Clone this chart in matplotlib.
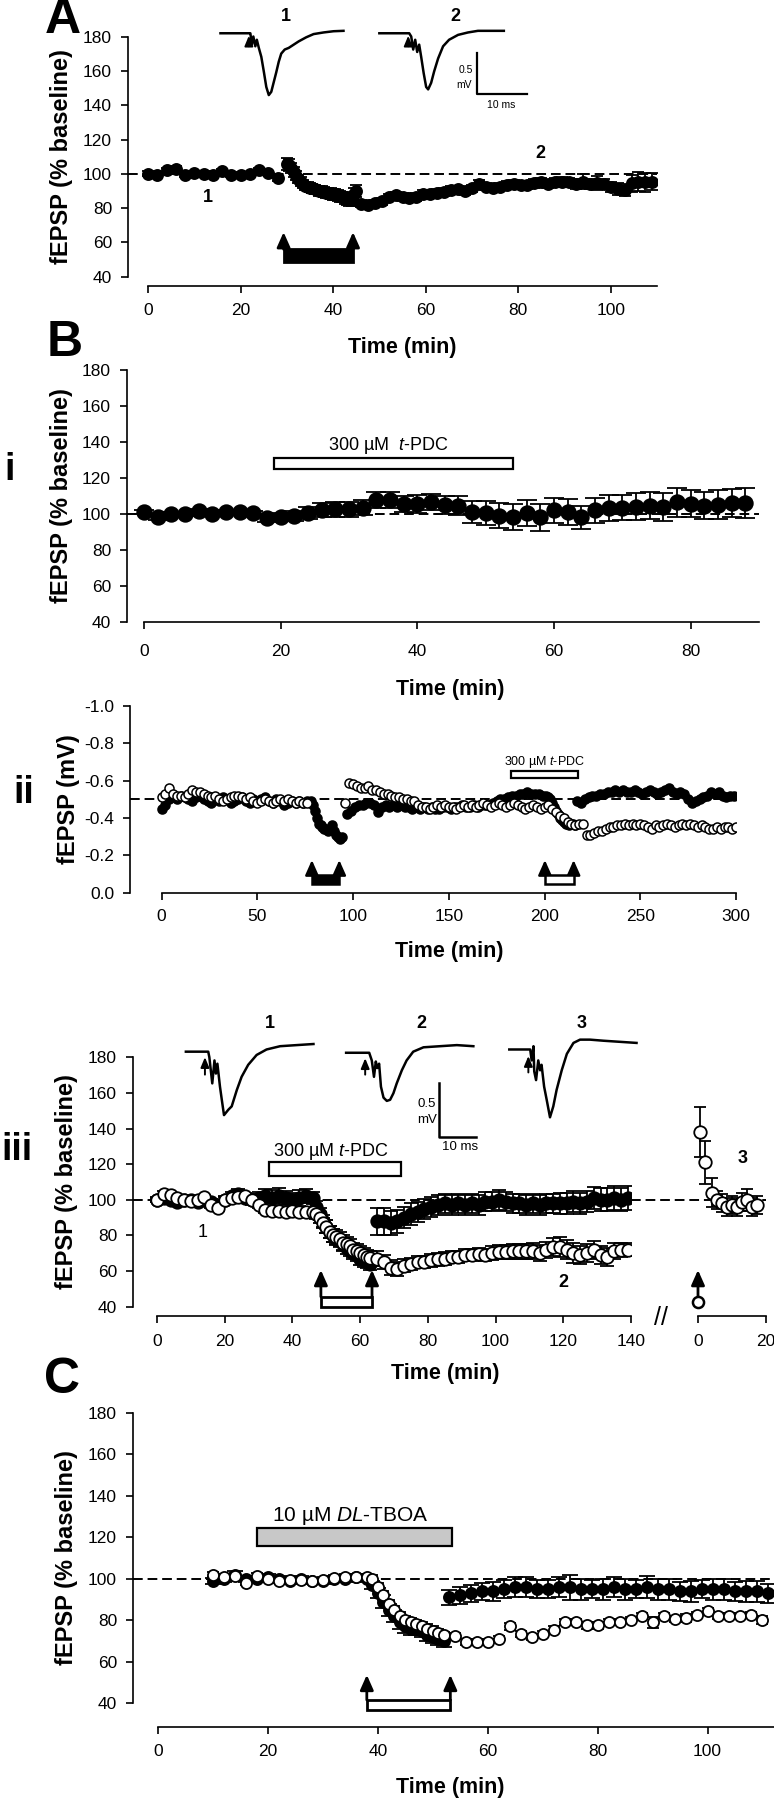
import matplotlib.pyplot as plt
import numpy as np
from matplotlib.patches import Rectangle

plt.rcParams["font.family"] = ["Liberation Sans", "DejaVu Sans"]
plt.rcParams["mathtext.fontset"] = "custom"
plt.rcParams["mathtext.rm"] = "Liberation Sans"
plt.rcParams["mathtext.it"] = "Liberation Sans:italic"

W, H = 774, 1800

# ---------------- A: LTD, % baseline ----------------
A_t_base = np.arange(0, 29, 2)
A_v_base = [100, 99.5, 102, 103, 99.5, 100.5, 100, 99.5, 101.5, 99.5, 99.5, 100, 102, 100.5, 97.5]
A_e_base = [1.5, 1.2, 1.4, 1.6, 1.3, 1.2, 1.4, 1.3, 1.5, 1.2, 1.4, 1.3, 1.6, 1.4, 1.5]
A_t_stim = np.arange(30, 45.5, 0.5)
A_v_stim = [106, 105, 103.5, 101, 99, 97, 95.5, 94, 93, 92.5, 92, 91.5, 91, 90.5, 90, 90,
            89.5, 89, 89, 88.5, 88, 88, 87.5, 87, 86.5, 86, 85.5, 85, 84.5, 88, 90]
A_e_stim = [3.5, 3.5, 3.0, 3.0, 2.8, 2.5, 2.5, 2.5, 2.5, 2.5, 2.5, 2.5, 2.5, 2.5, 2.8, 2.8,
            3.0, 3.0, 3.0, 3.0, 3.0, 3.0, 3.2, 3.2, 3.2, 3.5, 3.5, 3.5, 3.5, 3.5, 3.5]
A_t_post = np.arange(46, 109.5, 1.5)
A_v_post = [82.5, 82, 83, 84, 86.5, 87.5, 86.5, 86, 86.5, 88.5, 88.5, 89, 89.5, 90.5, 91, 90,
            91.5, 94, 92.5, 92, 92.5, 93.5, 94, 93.5, 93.5, 94.5, 95, 94, 95, 95.5, 95, 94,
            95.5, 94, 94.5, 94, 92.5, 91, 90.5, 94.5, 95.5, 95, 95.5]
A_e_post = [2.0, 2.0, 2.0, 2.0, 2.0, 2.2, 2.2, 2.2, 2.2, 2.2, 2.2, 2.2, 2.2, 2.2, 2.2, 2.2,
            2.2, 2.2, 2.2, 2.2, 2.2, 2.2, 2.2, 2.2, 2.2, 2.5, 2.5, 2.5, 2.5, 2.5, 2.5, 3.0,
            4.5, 3.0, 4.0, 3.0, 3.0, 3.5, 3.5, 5.0, 5.5, 5.5, 5.0]

# example traces (ms, mV)
A_tr1_ms = [0.3, 6.0, 6.3, 6.6, 6.9, 7.3, 7.6, 8.0, 8.5, 9.0, 9.5, 10.0, 10.5, 11.0, 11.5,
            12.0, 12.5, 13.2, 14.0, 15.0, 16.0, 17.5, 19.0, 21.0, 23.0, 25.0]
A_tr1_mv = [0, 0, 0, -0.14, -0.04, -0.16, -0.08, -0.18, -0.29, -0.47, -0.66, -0.76, -0.72,
            -0.60, -0.48, -0.35, -0.25, -0.20, -0.18, -0.14, -0.10, -0.05, -0.01, 0.01, 0.025, 0.03]
A_tr2_ms = [32.2, 38.2, 38.6, 39.0, 39.4, 39.8, 40.2, 40.6, 41.1, 41.6, 42.0, 42.6, 43.2,
            44.0, 45.0, 46.2, 48.0, 50.0, 52.0, 54.5, 57.2]
A_tr2_mv = [0, 0, -0.04, -0.20, -0.08, -0.23, -0.14, -0.29, -0.49, -0.66, -0.69, -0.61,
            -0.47, -0.31, -0.16, -0.08, -0.02, 0.01, 0.03, 0.03, 0.03]

# ---------------- B i: t-PDC alone ----------------
Bi_t = np.arange(0, 90, 2)
Bi_v = [101, 98, 100, 100, 101.5, 100, 101, 101, 100.5, 97.5, 98, 99, 100.5, 102, 102.5,
        102.5, 103.5, 107.5, 107.5, 105.5, 105.5, 106.5, 105, 104.5, 101, 100.5, 99, 98,
        100.5, 98, 102, 101, 98, 102, 103, 103.5, 104, 104.5, 104, 106.5, 105.5, 104.5,
        105, 106, 106]
Bi_e = [1.2, 1.5, 1.2, 1.2, 1.3, 1.2, 1.2, 1.2, 1.3, 2.0, 2.2, 2.8, 3.5, 4.0, 4.0, 4.2,
        4.0, 4.5, 4.5, 4.5, 4.8, 4.5, 5.0, 5.2, 6.0, 6.5, 7.0, 7.2, 7.0, 7.5, 7.0, 7.2,
        6.5, 7.0, 7.2, 7.0, 7.5, 7.5, 7.8, 8.0, 7.5, 7.5, 8.0, 8.0, 8.2]

# ---------------- B ii: single experiment, mV ----------------
Bii_f_t1 = np.arange(0, 77, 2)
Bii_f_v1 = [-0.45, -0.47, -0.50, -0.51, -0.50, -0.52, -0.51, -0.50, -0.49, -0.51, -0.52,
            -0.50, -0.49, -0.48, -0.50, -0.49, -0.51, -0.50, -0.48, -0.49, -0.50, -0.51,
            -0.49, -0.48, -0.50, -0.49, -0.50, -0.51, -0.49, -0.48, -0.50, -0.49, -0.47,
            -0.48, -0.49, -0.48, -0.49, -0.48, -0.49]
Bii_f_t2 = np.arange(78, 95, 1)
Bii_f_v2 = [-0.49, -0.47, -0.44, -0.40, -0.37, -0.36, -0.35, -0.34, -0.34, -0.33, -0.34,
            -0.36, -0.33, -0.31, -0.30, -0.29, -0.30]
Bii_f_t3 = np.arange(97, 200, 2)
Bii_f_v3 = [-0.42, -0.44, -0.46, -0.47, -0.47, -0.48, -0.48, -0.47, -0.43, -0.46, -0.47,
            -0.46, -0.47, -0.46, -0.47, -0.46, -0.46, -0.45, -0.46, -0.45, -0.46, -0.45,
            -0.46, -0.45, -0.45, -0.46, -0.46, -0.45, -0.46, -0.46, -0.47, -0.46, -0.46,
            -0.47, -0.46, -0.47, -0.47, -0.47, -0.48, -0.49, -0.50, -0.50, -0.51, -0.52,
            -0.52, -0.53, -0.53, -0.54, -0.53, -0.53, -0.53, -0.52]
Bii_f_t4 = np.arange(201, 217, 1)
Bii_f_v4 = [-0.52, -0.51, -0.50, -0.48, -0.46, -0.44, -0.42, -0.40, -0.39, -0.38, -0.37,
            -0.37, -0.36, -0.37, -0.37, -0.36]
Bii_f_t5 = np.arange(217, 300, 2)
Bii_f_v5 = [-0.49, -0.48, -0.50, -0.51, -0.52, -0.52, -0.53, -0.53, -0.54, -0.54, -0.55,
            -0.54, -0.55, -0.54, -0.54, -0.55, -0.54, -0.53, -0.54, -0.55, -0.54, -0.53,
            -0.54, -0.55, -0.56, -0.54, -0.53, -0.54, -0.53, -0.50, -0.48, -0.49, -0.50,
            -0.51, -0.52, -0.54, -0.53, -0.54, -0.52, -0.51, -0.52, -0.52]
Bii_o_t1 = np.arange(0, 77, 2)
Bii_o_v1 = [-0.51, -0.53, -0.56, -0.53, -0.52, -0.52, -0.51, -0.53, -0.55, -0.54, -0.54,
            -0.53, -0.52, -0.51, -0.52, -0.50, -0.49, -0.50, -0.51, -0.52, -0.52, -0.51,
            -0.50, -0.51, -0.49, -0.48, -0.49, -0.50, -0.49, -0.48, -0.49, -0.50, -0.49,
            -0.50, -0.49, -0.48, -0.49, -0.48, -0.48]
Bii_o_t2 = [96]
Bii_o_v2 = [-0.48]
Bii_o_t3 = np.arange(98, 203, 2)
Bii_o_v3 = [-0.59, -0.58, -0.57, -0.56, -0.56, -0.57, -0.55, -0.55, -0.54, -0.53, -0.53,
            -0.52, -0.51, -0.51, -0.50, -0.50, -0.49, -0.49, -0.47, -0.46, -0.46, -0.45,
            -0.46, -0.47, -0.46, -0.47, -0.46, -0.46, -0.45, -0.46, -0.47, -0.46, -0.47,
            -0.46, -0.47, -0.48, -0.47, -0.46, -0.47, -0.48, -0.47, -0.46, -0.47, -0.48,
            -0.47, -0.46, -0.45, -0.46, -0.47, -0.46, -0.45, -0.46, -0.47]
Bii_o_t4 = np.arange(204, 221, 2)
Bii_o_v4 = [-0.45, -0.43, -0.41, -0.40, -0.38, -0.37, -0.36, -0.37, -0.37]
Bii_o_t5 = np.arange(222, 301, 2)
Bii_o_v5 = [-0.31, -0.31, -0.32, -0.33, -0.33, -0.34, -0.35, -0.35, -0.36, -0.36, -0.37,
            -0.36, -0.37, -0.36, -0.37, -0.36, -0.35, -0.34, -0.36, -0.35, -0.36, -0.37,
            -0.36, -0.35, -0.36, -0.37, -0.36, -0.37, -0.36, -0.35, -0.36, -0.35, -0.34,
            -0.34, -0.35, -0.34, -0.35, -0.35, -0.34, -0.35]

# ---------------- B iii: pooled, two pathways ----------------
Biii_o_t1 = np.arange(0, 47, 2)
Biii_o_v1 = [100, 103.5, 102.5, 101, 100, 99.5, 100, 101.5, 97, 95.5, 100, 101, 101.5, 102,
             100, 97, 94.5, 93.5, 94, 93, 94, 93, 93, 93]
Biii_o_e1 = [1.2, 1.2, 1.2, 1.2, 1.2, 1.2, 1.2, 1.2, 1.5, 1.5, 1.5, 1.5, 1.5, 1.5, 1.5, 1.8,
             2, 2, 2, 2, 2, 2, 2, 2]
Biii_o_t2 = np.arange(47, 64, 1)
Biii_o_v2 = [92, 90, 87, 85, 82, 80, 79, 78, 76, 75, 74, 72, 71, 70, 69, 68, 67.5]
Biii_o_e2 = [2.5, 3, 3, 3.5, 3.5, 3.5, 4, 4, 4, 4, 4, 4, 4, 4, 4, 4, 4]
Biii_o_t3 = np.arange(65, 140, 2)
Biii_o_v3 = [67, 65, 62, 61, 63, 64, 65, 65, 66, 66.5, 67, 68, 68, 69, 69, 69.5, 69, 70,
             70.5, 70.5, 71, 71, 71, 71, 70, 72, 73.5, 73.5, 72, 70, 69, 70, 72, 69, 68, 71,
             72, 72]
Biii_o_e3 = [4, 4, 4, 4, 3.5, 3.5, 3.5, 3.5, 3.5, 3.5, 3.5, 3.5, 3.5, 3.5, 3.5, 3.5, 3.5, 4,
             4, 4, 4, 4, 4, 4.5, 4.5, 4.5, 5, 5.5, 5.5, 5.5, 5, 5, 5, 5, 5, 4.5, 4, 3.5]
Biii_f_t1 = np.arange(0, 31, 2)
Biii_f_v1 = [100, 101, 100, 99, 100, 100, 99, 100, 99, 97, 100, 102, 103, 101, 100, 101]
Biii_f_e1 = [1.5, 1.5, 1.5, 1.5, 1.5, 1.5, 1.5, 1.5, 1.5, 1.5, 2, 2.5, 3, 3, 3, 3.5]
Biii_f_t2 = np.arange(32, 47, 2)
Biii_f_v2 = [102, 101, 102, 101, 100, 101, 102, 101]
Biii_f_e2 = [4, 4.5, 4.5, 4, 4, 4.5, 4, 3.5]
Biii_f_t3 = np.arange(47, 64, 1)
Biii_f_v3 = [96, 92, 88, 85, 82, 80, 78, 77, 75, 73, 72, 70, 69, 67, 66, 65, 64]
Biii_f_e3 = [3.5, 3.5, 3.5, 3.5, 3.5, 3.5, 3.5, 3.5, 3.5, 3.5, 3.5, 3.5, 3.5, 3.5, 3.5, 3.5, 3.5]
Biii_f_t4 = np.arange(65, 140, 2)
Biii_f_v4 = [88, 88, 87, 88, 90, 92, 93, 95, 96, 97, 98, 97, 98, 97, 98, 97, 99, 99, 100, 99,
             98, 98, 97, 98, 97, 98, 98, 98, 98, 99, 98, 99, 101, 100, 100, 101, 100, 101]
Biii_f_e4 = [7.5, 7.5, 7, 6.5, 6, 6, 5.5, 5.5, 5.5, 5.5, 5.5, 5.5, 5.5, 5.5, 5.5, 5.5, 5.5,
             5.5, 5.5, 5.5, 5.5, 5.5, 5.5, 5.5, 5.5, 5.5, 5.5, 6, 6, 6, 6, 6, 6, 6.5, 6.5,
             6.5, 6.5, 6.5]
# after the break (new stimulus)
Biii_r_t = [0.5, 2, 4, 5.5, 7, 8.5, 10, 11.5, 13, 14.5, 16, 17.5]
Biii_r_v = [138, 121, 104, 100, 98, 96, 97, 96, 99, 100, 96, 97]
Biii_r_e = [14, 12, 8, 5, 5, 5, 5, 5, 5, 6, 5, 5]

Biii_tr1_ms = [1.6, 7.7, 8.0, 8.8, 9.4, 9.8, 10.2, 10.9, 11.4, 12.0, 13.2, 14.1, 15.5, 16.8,
               18.6, 20.9, 23.6, 27.3, 31.8, 36.4]
Biii_tr1_mv = [0, 0, -0.05, -0.29, -0.08, -0.20, -0.11, -0.32, -0.44, -0.58, -0.53, -0.50,
               -0.35, -0.23, -0.12, -0.03, 0.02, 0.05, 0.06, 0.07]
Biii_tr2_ms = [45.3, 51.6, 52.3, 52.9, 53.4, 53.8, 54.3, 54.8, 55.5, 56.4, 57.3, 58.2, 59.1,
               60.5, 61.8, 63.6, 66.4, 70.9, 75.5, 80.0]
Biii_tr2_mv = [-0.01, -0.01, -0.08, -0.23, -0.09, -0.15, -0.11, -0.32, -0.42, -0.45, -0.44,
               -0.38, -0.29, -0.17, -0.08, 0.0, 0.04, 0.05, 0.06, 0.05]
Biii_tr3_ms = [89.8, 95.5, 95.9, 96.4, 96.6, 97.1, 97.7, 98.2, 98.6, 99.3, 100.0, 100.9,
               101.8, 102.7, 104.1, 105.5, 107.3, 109.1, 111.8, 115.5, 120.0, 124.5]
Biii_tr3_mv = [0.02, 0.02, -0.08, 0.05, -0.18, -0.26, -0.08, -0.17, -0.12, -0.32, -0.44,
               -0.60, -0.50, -0.35, -0.17, -0.02, 0.08, 0.11, 0.11, 0.10, 0.09, 0.08]

# ---------------- C: DL-TBOA ----------------
C_f_t1 = np.arange(10, 39, 2)
C_f_v1 = [99, 100, 102, 100, 100, 101, 100, 99, 100, 99, 99, 100, 100, 101, 100]
C_f_e1 = [1.5, 1.5, 1.5, 1.5, 1.5, 1.5, 1.5, 1.5, 1.5, 1.5, 1.5, 1.5, 1.5, 1.5, 1.5]
C_f_t2 = np.arange(39, 53, 1)
C_f_v2 = [97, 93, 89, 85, 82, 79, 77, 76, 76, 75, 73, 72, 71, 70]
C_f_e2 = [2, 2.5, 3, 3, 3, 3, 3, 3, 3, 3, 3, 3, 3, 3]
C_f_t3 = np.arange(53, 112, 2)
C_f_v3 = [91, 92, 93, 94, 94, 95, 96, 96, 95, 95, 96, 96, 95, 95, 95, 96, 95, 95, 96, 95,
          95, 94, 94, 95, 95, 95, 94, 94, 94, 93]
C_f_e3 = [3.5, 4, 4, 4, 4.5, 4.5, 5, 5, 4.5, 4.5, 5, 6, 5, 4.5, 5, 5, 5, 4.5, 5.5, 5, 5,
          4.5, 5, 4.5, 5, 5, 4.5, 5, 5, 4.5]
C_o_t1 = np.arange(10, 39, 2)
C_o_v1 = [102, 101, 101.5, 98, 101.5, 100, 99, 99.5, 99.5, 99, 99.5, 100.5, 101, 101, 101]
C_o_e1 = [1.2, 1.2, 1.2, 1.2, 1.2, 1.2, 1.2, 1.2, 1.2, 1.2, 1.2, 1.2, 1.2, 1.2, 1.2]
C_o_t2 = np.arange(39, 52, 1)
C_o_v2 = [100, 96, 92, 88, 85, 82, 80, 79, 78, 77, 76, 75, 74]
C_o_e2 = [2, 2, 2, 2, 2, 2, 2, 2, 2, 2, 2, 2, 2]
C_o_t3 = np.arange(52, 111, 2)
C_o_v3 = [73, 72.5, 69.5, 69.5, 69.5, 71, 77, 73.5, 72, 73.5, 75.5, 79, 79, 77.5, 77.5, 79,
          79, 80, 82, 79, 82, 80.5, 81, 82.5, 84.5, 82, 82, 82, 82.5, 80]
C_o_e3 = [1.5, 1.5, 1.5, 1.5, 1.5, 1.5, 1.5, 1.5, 1.5, 1.5, 1.5, 1.5, 1.5, 1.5, 1.5, 1.5,
          1.5, 1.5, 1.5, 2.5, 1.5, 1.5, 2, 1.5, 1.5, 1.5, 1.5, 1.5, 1.5, 2]

BASE_PCT = 100
BASE_MV = -0.5


fig = plt.figure(figsize=(W / 100, H / 100), dpi=100)

DASH = dict(color="k", lw=1.4, ls=(0, (5, 2.5)), zorder=1)
NUM = dict(fontsize=13, fontweight="bold", ha="center", va="center")


def px_axes(x0, y0, x1, y1):
    return fig.add_axes([x0 / W, 1 - y1 / H, (x1 - x0) / W, (y1 - y0) / H])


def fig_text(x, y, s, **kw):
    fig.text(x / W, 1 - y / H, s, ha="center", va="center", **kw)


def style(ax, xticks, yticks, xbound, ybound, drop=0.0, pad=7):
    ax.spines[["top", "right"]].set_visible(False)
    ax.spines["left"].set_bounds(*ybound)
    ax.spines["bottom"].set_bounds(*xbound)
    ax.spines["bottom"].set_position(("outward", drop))
    for sp in ax.spines.values():
        sp.set_linewidth(1.2)
    ax.set_xticks(xticks)
    ax.set_yticks(yticks)
    ax.tick_params(direction="out", width=1.2, labelsize=12.5)
    ax.tick_params(axis="x", length=5, pad=pad)
    ax.tick_params(axis="y", length=5, pad=6.5)
    ax.patch.set_visible(False)


def series(ax, t, v, e, filled, ms, cap):
    ax.errorbar(t, v, yerr=e, fmt="o", ms=ms, mfc="k" if filled else "w", mec="k", mew=1.3,
                ecolor="k", elinewidth=1.3, capsize=cap, capthick=1.3,
                zorder=3 if filled else 4)


def stim(ax, t0, t1, far, near, tip, filled, lw=2.0):
    ax.add_patch(Rectangle((t0, far), t1 - t0, near - far, fc="k" if filled else "w",
                           ec="k", lw=lw, clip_on=False, zorder=5))
    for t in (t0, t1):
        ax.annotate("", xy=(t, tip), xytext=(t, near), annotation_clip=False,
                    arrowprops=dict(arrowstyle="-|>,head_width=0.4,head_length=0.9",
                                    color="k", lw=lw, shrinkA=0, shrinkB=0))


def drug(ax, t0, t1, lo, hi, label, tx, ty, size, color="w"):
    ax.add_patch(Rectangle((t0, lo), t1 - t0, hi - lo, fc=color, ec="k", lw=1.6,
                           clip_on=False, zorder=5))
    ax.text(tx, ty, label, ha="center", va="center", fontsize=size)


def trace_arrow(ax, x, y0, y1):
    ax.annotate("", xy=(x, y1), xytext=(x, y0),
                arrowprops=dict(arrowstyle="-|>,head_width=0.25,head_length=0.6",
                                color="k", lw=1.4, shrinkA=0, shrinkB=0))


# ================= A =================
axA = px_axes(128, 36.7, 657, 276.7)
axA.set_xlim(-4.33, 110)
axA.set_ylim(40, 180)
style(axA, range(0, 101, 20), range(40, 181, 20), (0, 110), (40, 180), drop=6.7, pad=7)
axA.axhline(BASE_PCT, **DASH)
series(axA, np.concatenate([A_t_base, A_t_stim, A_t_post]),
       np.concatenate([A_v_base, A_v_stim, A_v_post]),
       np.concatenate([A_e_base, A_e_stim, A_e_post]), True, 8, 4)
stim(axA, 29.3, 44.3, 48.5, 56, 66, True)
axA.text(13, 86, "1", **NUM)
axA.text(84.8, 112, "2", **NUM)

tA = px_axes(215, 4.8, 540, 114.6)
tA.set_xlim(-0.8, 64.46)
tA.set_ylim(-1.0, 0.35)
tA.axis("off")
tA.plot(A_tr1_ms, A_tr1_mv, color="k", lw=1.8)
tA.plot(A_tr2_ms, A_tr2_mv, color="k", lw=1.8)
trace_arrow(tA, 6.0, -0.16, -0.03)
trace_arrow(tA, 38.0, -0.16, -0.03)
tA.plot([51.8, 51.8, 61.8], [-0.246, -0.746, -0.746], color="k", lw=1.6)
tA.text(49.6, -0.45, "0.5", fontsize=7.5, ha="center", va="center")
tA.text(49.3, -0.635, "mV", fontsize=7.5, ha="center", va="center")
tA.text(56.7, -0.88, "10 ms", fontsize=7.5, ha="center", va="center")
tA.text(13.5, 0.205, "1", **NUM)
tA.text(47.5, 0.205, "2", **NUM)

# ================= B i =================
axBi = px_axes(127, 370, 759, 621.7)
axBi.set_xlim(-2.5, 90)
axBi.set_ylim(40, 180)
style(axBi, range(0, 81, 20), range(40, 181, 20), (0, 90), (40, 180), pad=11)
axBi.axhline(BASE_PCT, **DASH)
series(axBi, Bi_t, Bi_v, Bi_e, True, 10.5, 7)
drug(axBi, 19, 54, 125, 131, r"300 µM  $\mathit{t}$-PDC", 35.7, 138, 13)

# ================= B ii =================
axBii = px_axes(130, 706, 736, 892.7)
axBii.set_xlim(-16.5, 300)
axBii.set_ylim(0.0, -1.0)
mv_ticks = [-1.0, -0.8, -0.6, -0.4, -0.2, 0.0]
style(axBii, range(0, 301, 50), mv_ticks, (0, 300), (-1.0, 0.0), pad=7)
axBii.set_yticklabels([f"{v:.1f}".replace("-0.0", "0.0") for v in mv_ticks])
axBii.axhline(BASE_MV, **DASH)
f_t = np.concatenate([Bii_f_t1, Bii_f_t2, Bii_f_t3, Bii_f_t4, Bii_f_t5])
f_v = np.concatenate([Bii_f_v1, Bii_f_v2, Bii_f_v3, Bii_f_v4, Bii_f_v5])
o_t = np.concatenate([Bii_o_t1, Bii_o_t2, Bii_o_t3, Bii_o_t4, Bii_o_t5])
o_v = np.concatenate([Bii_o_v1, Bii_o_v2, Bii_o_v3, Bii_o_v4, Bii_o_v5])
axBii.plot(f_t, f_v, "o", ms=6.5, mfc="k", mec="k", mew=1.1, zorder=3)
axBii.plot(o_t, o_v, "o", ms=6.5, mfc="w", mec="k", mew=1.1, zorder=4)
stim(axBii, 78.5, 92.8, -0.047, -0.095, -0.175, True, lw=1.8)
stim(axBii, 200.2, 215.2, -0.047, -0.095, -0.175, False, lw=1.8)
drug(axBii, 182.6, 217.4, -0.613, -0.654, r"300 µM $\mathit{t}$-PDC", 200, -0.70, 9)

# ================= B iii =================
axBiii = px_axes(133, 1057.3, 631, 1306.7)
axBiii.set_xlim(-7.1, 140)
axBiii.set_ylim(40, 180)
style(axBiii, range(0, 141, 20), range(40, 181, 20), (0, 140), (40, 180), drop=6.7, pad=8)
axBiii.axhline(BASE_PCT, **DASH)
series(axBiii, np.concatenate([Biii_f_t1, Biii_f_t2, Biii_f_t3, Biii_f_t4]),
       np.concatenate([Biii_f_v1, Biii_f_v2, Biii_f_v3, Biii_f_v4]),
       np.concatenate([Biii_f_e1, Biii_f_e2, Biii_f_e3, Biii_f_e4]), True, 9, 5)
series(axBiii, np.concatenate([Biii_o_t1, Biii_o_t2, Biii_o_t3]),
       np.concatenate([Biii_o_v1, Biii_o_v2, Biii_o_v3]),
       np.concatenate([Biii_o_e1, Biii_o_e2, Biii_o_e3]), False, 9, 5)
drug(axBiii, 33, 72, 113.5, 121, r"300 µM $\mathit{t}$-PDC", 51.4, 127, 13)
stim(axBiii, 48.4, 63.5, 40, 45.6, 60.6, False)
axBiii.text(13.6, 81.5, "1", fontsize=13, ha="center", va="center")
axBiii.text(120, 53.4, "2", **NUM)

axR = px_axes(631, 1057.3, 766, 1306.7)
axR.set_xlim(-19.7, 20)
axR.set_ylim(40, 180)
style(axR, [0, 20], [], (0, 20), (40, 180), drop=6.7, pad=8)
axR.spines["left"].set_visible(False)
axR.tick_params(axis="y", left=False, labelleft=False)
axR.axhline(BASE_PCT, **DASH)
series(axR, Biii_r_t, Biii_r_v, Biii_r_e, False, 9, 4)
axR.annotate("", xy=(0, 60.6), xytext=(0, 45.6), annotation_clip=False,
             arrowprops=dict(arrowstyle="-|>,head_width=0.4,head_length=0.9",
                             color="k", lw=2, shrinkA=0, shrinkB=0))
axR.plot([0], [42.4], "o", ms=8, mfc="w", mec="k", mew=1.8, clip_on=False, zorder=5)
axR.text(13, 123.4, "3", **NUM)
axR.text(-11, 33.6, "//", fontsize=18, ha="center", va="center")

tB = px_axes(180, 1010, 660, 1150)
tB.set_xlim(0, 130.9)
tB.set_ylim(-0.899, 0.381)
tB.axis("off")
for ms_, mv_ in ((Biii_tr1_ms, Biii_tr1_mv), (Biii_tr2_ms, Biii_tr2_mv),
                 (Biii_tr3_ms, Biii_tr3_mv)):
    tB.plot(ms_, mv_, color="k", lw=1.8)
trace_arrow(tB, 6.8, -0.21, -0.05)
trace_arrow(tB, 50.5, -0.21, -0.06)
trace_arrow(tB, 95.0, -0.19, -0.04)
tB.plot([70.7, 70.7, 80.7], [-0.284, -0.784, -0.784], color="k", lw=1.8)
tB.text(67.4, -0.48, "0.5", fontsize=9.5, ha="center", va="center")
tB.text(67.3, -0.625, "mV", fontsize=9.5, ha="center", va="center")
tB.text(76.4, -0.87, "10 ms", fontsize=9.5, ha="center", va="center")
tB.text(24.4, 0.26, "1", **NUM)
tB.text(65.9, 0.26, "2", **NUM)
tB.text(109.4, 0.26, "3", **NUM)

# ================= C =================
axC = px_axes(133, 1412.7, 774, 1703.3)
axC.set_xlim(-4.55, 112.1)
axC.set_ylim(40, 180)
style(axC, range(0, 101, 20), range(40, 181, 20), (0, 112.1), (40, 180), drop=17.3, pad=7)
axC.axhline(BASE_PCT, **DASH)
series(axC, np.concatenate([C_f_t1, C_f_t2, C_f_t3]),
       np.concatenate([C_f_v1, C_f_v2, C_f_v3]),
       np.concatenate([C_f_e1, C_f_e2, C_f_e3]), True, 8, 6)
series(axC, np.concatenate([C_o_t1, C_o_t2, C_o_t3]),
       np.concatenate([C_o_v1, C_o_v2, C_o_v3]),
       np.concatenate([C_o_e1, C_o_e2, C_o_e3]), False, 8, 4)
drug(axC, 18, 53.5, 116, 124.3, r"10 µM $\mathit{DL}$-TBOA", 35, 130, 15, color="#c8c8c8")
stim(axC, 38, 53.2, 36.8, 41.6, 53.7, False)

# ================= labels =================
XLAB = dict(fontsize=15.5, fontweight="bold")
YLAB = dict(fontsize=17, fontweight="bold", rotation=90)
for x, y in ((402, 348), (450, 690), (449, 952), (445, 1373), (450, 1787)):
    fig_text(x, y, "Time (min)", **XLAB)
for x, y in ((62, 157), (62, 496), (66, 1182), (66, 1558)):
    fig_text(x, y, "fEPSP (% baseline)", **YLAB)
fig_text(69, 799, "fEPSP (mV)", **YLAB)

for s, x, y in (("A", 63, 20), ("B", 65, 343), ("C", 62, 1380)):
    fig_text(x, y, s, fontsize=36, fontweight="bold")
for s, x, y in (("i", 10, 470), ("ii", 24, 793), ("iii", 17, 1150)):
    fig_text(x, y, s, fontsize=27, fontweight="bold")

fig.savefig("out.png", dpi=100)
